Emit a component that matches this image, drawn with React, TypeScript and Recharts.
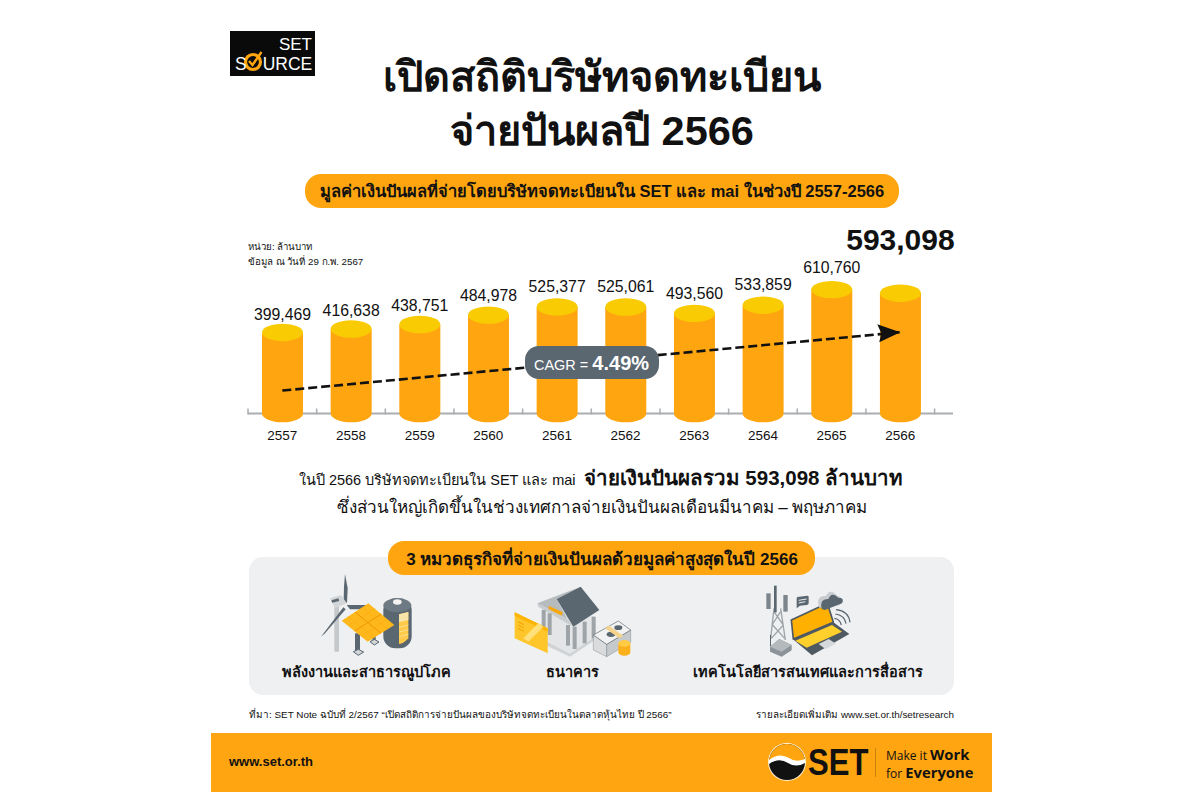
import React from "react";
import { ComposedChart, Bar, Line, XAxis, YAxis, LabelList } from "recharts";

const years = ["2557", "2558", "2559", "2560", "2561", "2562", "2563", "2564", "2565", "2566"];
const dividends = [399469, 416638, 438751, 484978, 525377, 525061, 493560, 533859, 610760, 593098];
const trend = [113000, null, null, null, null, null, null, null, null, 400500];
const rows = years.map((year, i) => ({ year, value: dividends[i], trend: trend[i] }));

const FONT = "'Liberation Sans', Arial, 'Noto Sans', sans-serif";
const ORANGE = "#FFA50F";
const YELLOW = "#F9CB03";
const DARK = "#5A6670";
const BAND_STEP = 68.66;

function Cylinder(props: any) {
  const { x, y, width, height } = props;
  const rx = width / 2;
  const ry = 8.7;
  const bottom = y + height;
  return (
    <g>
      <path d={`M${x} ${y} L${x} ${bottom} A${rx} ${ry} 0 0 0 ${x + width} ${bottom} L${x + width} ${y} Z`} fill={ORANGE} />
      <ellipse cx={x + rx} cy={y} rx={rx} ry={ry} fill={YELLOW} />
    </g>
  );
}

function YearTick(props: any) {
  const { x, y, payload, index } = props;
  const left = x - BAND_STEP / 2;
  return (
    <g>
      <line x1={left} x2={left} y1={y - 5} y2={y + 1} stroke="#A9AEB2" strokeWidth={1.5} />
      {index === years.length - 1 && (
        <line x1={left + BAND_STEP} x2={left + BAND_STEP} y1={y - 5} y2={y + 1} stroke="#A9AEB2" strokeWidth={1.5} />
      )}
      <text x={x} y={y + 26} textAnchor="middle" fontSize={13.5} fontFamily={FONT} fill="#111">
        {payload.value}
      </text>
    </g>
  );
}

function ValueLabel(props: any) {
  const { x, y, width, value, index } = props;
  const big = index === years.length - 1;
  return (
    <text
      x={x + width / 2}
      y={big ? y - 43 : y - 12.5 - (Number(value) - 400000) / 52500}
      textAnchor="middle"
      fontSize={big ? 30 : 15.8}
      fontWeight={big ? 700 : 400}
      fontFamily={FONT}
      fill="#111"
    >
      {Number(value).toLocaleString("en-US")}
    </text>
  );
}

function ArrowDot(props: any) {
  const { cx, cy, index } = props;
  if (index !== years.length - 1) return <g key={index} />;
  return (
    <polygon
      key={index}
      points={`${cx},${cy} ${cx - 23},${cy - 8} ${cx - 19},${cy + 1} ${cx - 21},${cy + 10}`}
      fill="#111"
    />
  );
}

function T({ x, y, anchor = "center", size, bold, color = "#111", children, family, weight }: any) {
  const tx = anchor === "center" ? "-50%" : anchor === "right" ? "-100%" : "0";
  return (
    <div
      style={{
        position: "absolute",
        left: x,
        top: y,
        transform: `translate(${tx}, -50%)`,
        fontSize: size,
        fontWeight: weight || (bold ? 700 : 400),
        color,
        whiteSpace: "nowrap",
        lineHeight: 1,
        fontFamily: family || FONT,
      }}
    >
      {children}
    </div>
  );
}

function Pill({ x, y, w, h, color, r }: any) {
  return (
    <div style={{ position: "absolute", left: x, top: y, width: w, height: h, background: color, borderRadius: r }} />
  );
}

function Icons() {
  const gray = "#5A6670";
  const light = "#D3D6D8";
  const mid = "#9EA4A8";
  const third = 1 / 3;
  return (
    <svg width={1200} height={804} style={{ position: "absolute", left: 0, top: 0 }}>
      <g transform={`translate(315 570) scale(${third})`}>
        <rect x={58} y={110} width={14} height={135} fill="#C4C8CB" />
        <polygon points="90,12 98,55 96,100 86,90 87,50" fill={gray} />
        <polygon points="18,200 85,112 92,118 30,190" fill={gray} />
        <polygon points="95,105 165,105 165,118 105,118" fill={gray} />
        <polygon points="45,85 78,75 95,100 60,115" fill={light} />
        <rect x={50} y={88} width={22} height={8} fill={gray} transform="rotate(-15 60 92)" />
        <rect x={205} y={85} width={85} height={150} rx={36} fill={gray} />
        <ellipse cx={247} cy={106} rx={42} ry={21} fill="#6E7A83" />
        <ellipse cx={247} cy={96} rx={13} ry={8} fill="#F4F4F4" />
        <path d="M252 133 L280 126 L280 205 Q265 222 252 222Z" fill="#FFC94A" />
        <path d="M252 133 L280 126 L280 150 L252 157Z" fill="#F7E4A8" />
        <path d="M252 172 L280 165 M252 186 L280 179 M252 200 L280 193" stroke="#FBE08A" strokeWidth={3} />
        <rect x={120} y={190} width={15} height={55} fill={gray} />
        <polygon points="115,245 130,238 146,246 130,256" fill={light} stroke={gray} strokeWidth={3} />
        <rect x={172} y={195} width={10} height={20} fill={gray} />
        <polygon points="165,215 178,208 192,216 178,225" fill={light} stroke={gray} strokeWidth={3} />
        <polygon points="160,100 238,165 158,215 80,152" fill="#FFB81C" />
        <path d="M120 126 L198 190 M199 132 L119 183" stroke="#EE9600" strokeWidth={3} />
        <path d="M100 139 L178 202 M140 113 L218 177 M180 116 L99 168 M218 148 L138 199" stroke="#F7A80C" strokeWidth={1.5} />
      </g>

      <g transform={`translate(510 575) scale(${third})`}>
        <polygon points="95,100 255,125 255,185 180,240 110,205" fill="#E3E5E6" />
        <polygon points="110,200 180,236 255,185 255,195 180,245 110,212" fill="#D0D3D5" />
        <polygon points="82,85 212,35 140,72 172,132" fill="#B6BBBE" />
        <polygon points="116,92 158,112 155,122 116,104" fill="#F7A80C" />
        <polygon points="212,35 268,105 190,155 140,72" fill={gray} />
        <polygon points="82,85 172,132 190,155 85,95" fill="#C8CCCE" />
        {[[95, 105, 175], [113, 115, 180], [168, 150, 212], [188, 155, 222], [218, 140, 205], [245, 125, 190]].map(([x, a, b]) => (
          <rect key={x} x={x} y={a} width={12} height={b - a} fill={mid} />
        ))}
        <polygon points="14,112 113,160 113,235 14,190" fill="#FFC62B" />
        <polygon points="14,112 113,160 113,170 14,122" fill="#FFB400" />
        <polygon points="40,190 85,145 100,155 55,200" fill="#FFE07A" />
        <path d="M24 140 L42 149 M24 150 L42 159 M24 160 L42 169" stroke="#F2A100" strokeWidth={3} />
        <polygon points="250,180 290,208 290,245 250,225" fill="#D9DBDD" stroke={gray} strokeWidth={1} />
        <polygon points="290,208 362,165 362,202 290,245" fill="#C5C9CB" stroke={gray} strokeWidth={1} />
        <polygon points="250,180 325,138 362,165 290,208" fill="#F2F2F2" stroke={gray} strokeWidth={2} />
        <ellipse cx={303} cy={178} rx={13} ry={8} fill={gray} />
        <ellipse cx={325} cy={158} rx={12} ry={7} fill={gray} />
        <polygon points="285,160 297,152 340,182 328,190" fill="#F4D48C" />
        <path d="M325 205 L325 232 A18 10 0 0 0 361 232 L361 205Z" fill="#FBB01C" />
        <ellipse cx={343} cy={205} rx={18} ry={10} fill="#FFCB45" />
      </g>

      <g transform={`translate(750 575) scale(${third})`}>
        <path d="M72 100 L62 190 M92 100 L106 195 M72 110 L100 150 M92 110 L66 150 M68 150 L104 190 M100 150 L64 190" stroke={mid} strokeWidth={4} fill="none" />
        <rect x={49} y={55} width={13} height={47} fill="#7C858C" />
        <rect x={72} y={32} width={8} height={80} fill={gray} />
        <rect x={100} y={60} width={13} height={50} fill="#7C858C" />
        <rect x={60} y={180} width={3} height={35} fill={gray} />
        <polygon points="60,215 88,192 125,210 125,226 95,245 60,230" fill="#8D9499" />
        <polygon points="60,215 88,192 125,210 95,230" fill="#B4B9BC" />
        <path d="M142 66 L172 62 Q176 62 176 66 L176 85 Q176 90 170 90 L150 92 L140 100 L140 72 Q140 67 142 66Z" fill={gray} />
        <path d="M146 76 L170 72 M146 84 L166 80" stroke="#EEE" strokeWidth={3} />
        <polygon points="124,135 232,85 250,142 130,192" fill="#FFB000" stroke="#4E5962" strokeWidth={5} strokeLinejoin="round" />
        <polygon points="128,192 250,142 298,177 186,241" fill="#4E5962" />
        <polygon points="136,197 246,150 276,170 170,218" fill="#FFD02B" />
        <polygon points="206,207 236,192 258,206 226,222" fill="#D6D9DB" />
        <path d="M208 98 Q195 62 228 62 Q240 38 262 62 Q280 65 270 90Z" fill="#C9CDD0" />
        <path d="M215 102 Q208 70 235 72 Q245 48 265 68 Q285 68 276 85 L225 105Z" fill={gray} />
        <path d="M253 130 Q270 132 274 150 M256 117 Q283 120 288 146 M258 104 Q296 108 300 142" fill="none" stroke={gray} strokeWidth={3.5} />
      </g>

      <circle cx={787} cy={762} r={19} fill="#FFF4D6" />
      <circle cx={787} cy={762} r={18} fill="#111" />
      <path d="M769 762 a18 18 0 0 1 36 0 q-8 4 -16 -1 q-10 -6 -20 1Z" fill="#FFA50F" />
      <path d="M769 764 q10 -7 19 -1 q8 5 17 0 l0 -4 q-9 4 -16 -1 q-10 -6 -20 2Z" fill="#fff" />
      <rect x={875} y={748} width={1} height={29} fill="#C9820B" />

      <circle cx={253} cy={62} r={7.5} fill="none" stroke="#FFA50F" strokeWidth={3.2} />
      <path d="M249 61 l3.5 4 l9 -13" fill="none" stroke="#FFA50F" strokeWidth={2.4} />
    </svg>
  );
}

export default function App() {
  return (
    <div style={{ position: "absolute", left: 0, top: 0, width: 1200, height: 804, background: "#fff", overflow: "hidden", fontFamily: FONT }}>
      <Pill x={211} y={733} w={781} h={59} color="#FFA512" r={0} />
      <Pill x={230} y={31} w={85} h={45} color="#0A0A0A" r={0} />
      <Pill x={305} y={174} w={594} h={34} color={ORANGE} r={16} />
      <Pill x={249} y={557} w={705} h={138} color="#EFF0F1" r={14} />
      <Pill x={388} y={541} w={427} h={34} color={ORANGE} r={16} />

      <ComposedChart
        width={1200}
        height={804}
        data={rows}
        margin={{ top: 271.5, right: 247, bottom: 389.5, left: 248 }}
        style={{ position: "absolute", left: 0, top: 0 }}
      >
        <YAxis hide domain={[0, 700000]} />
        <XAxis
          dataKey="year"
          height={1}
          padding={{ left: 0, right: 18.4 }}
          axisLine={{ stroke: "#A9AEB2", strokeWidth: 2 }}
          tickLine={false}
          tickSize={0}
          tickMargin={0}
          interval={0}
          zIndex={100}
          tick={<YearTick />}
        />
        <Bar dataKey="value" barSize={41} shape={<Cylinder />} isAnimationActive={false}>
          <LabelList dataKey="value" content={<ValueLabel />} />
        </Bar>
        <Line
          dataKey="trend"
          connectNulls
          stroke="#111"
          strokeWidth={2.6}
          strokeDasharray="9 4"
          dot={(p: any) => <ArrowDot {...p} />}
          activeDot={false}
          isAnimationActive={false}
        />
      </ComposedChart>

      <Pill x={525} y={346} w={134} h={33} color={DARK} r={14} />
      <T x={591.5} y={363} color="#fff" size={14.5}>
        CAGR = <span style={{ fontWeight: 700, fontSize: 20 }}>4.49%</span>
      </T>

      <Icons />

      <T x={248} y={247} anchor="left" size={9.7}>หน่วย: ล้านบาท</T>
      <T x={248} y={262} anchor="left" size={9.7}>ข้อมูล ณ วันที่ 29 ก.พ. 2567</T>

      <T x={602} y={77} size={41.5} bold>เปิดสถิติบริษัทจดทะเบียน</T>
      <T x={602} y={131} size={41.5} bold>จ่ายปันผลปี 2566</T>
      <T x={602} y={191} size={16.5} bold>มูลค่าเงินปันผลที่จ่ายโดยบริษัทจดทะเบียนใน SET และ mai ในช่วงปี 2557-2566</T>

      <T x={601} y={478}>
        <span style={{ fontSize: 14.5 }}>ในปี 2566 บริษัทจดทะเบียนใน SET และ mai&nbsp;&nbsp;</span>
        <span style={{ fontSize: 20.5, fontWeight: 700 }}>จ่ายเงินปันผลรวม 593,098 ล้านบาท</span>
      </T>
      <T x={602} y={507} size={17}>ซึ่งส่วนใหญ่เกิดขึ้นในช่วงเทศกาลจ่ายเงินปันผลเดือนมีนาคม – พฤษภาคม</T>

      <T x={602} y={559} size={17} bold>3 หมวดธุรกิจที่จ่ายเงินปันผลด้วยมูลค่าสูงสุดในปี 2566</T>
      <T x={366} y={672} size={14.5} bold>พลังงานและสาธารณูปโภค</T>
      <T x={572} y={672} size={14.5} bold>ธนาคาร</T>
      <T x={808} y={672} size={14.5} bold>เทคโนโลยีสารสนเทศและการสื่อสาร</T>

      <T x={249} y={715} anchor="left" size={9.9}>ที่มา: SET Note ฉบับที่ 2/2567 “เปิดสถิติการจ่ายปันผลของบริษัทจดทะเบียนในตลาดหุ้นไทย ปี 2566”</T>
      <T x={954} y={715} anchor="right" size={9.9}>รายละเอียดเพิ่มเติม www.set.or.th/setresearch</T>

      <T x={229} y={761} anchor="left" size={13} bold>www.set.or.th</T>
      <T x={808} y={762} anchor="left" size={37} bold color="#111">
        <span style={{ display: "inline-block", width: 60, transform: "scaleX(0.84)", transformOrigin: "left center" }}>SET</span>
      </T>
      <T x={886} y={754} anchor="left" size={14.8} family="'Open Sans', sans-serif">
        <span style={{ fontSize: 12 }}>Make it </span><b>Work</b>
      </T>
      <T x={886} y={772} anchor="left" size={14.8} family="'Open Sans', sans-serif">
        <span style={{ fontSize: 12 }}>for </span><b>Everyone</b>
      </T>

      <T x={312} y={44} anchor="right" size={17} color="#fff" weight={400}>SET</T>
      <T x={235} y={64.5} anchor="left" size={17.5} color="#fff" weight={400}>S<span style={{ marginLeft: 16 }}>URCE</span></T>
    </div>
  );
}
